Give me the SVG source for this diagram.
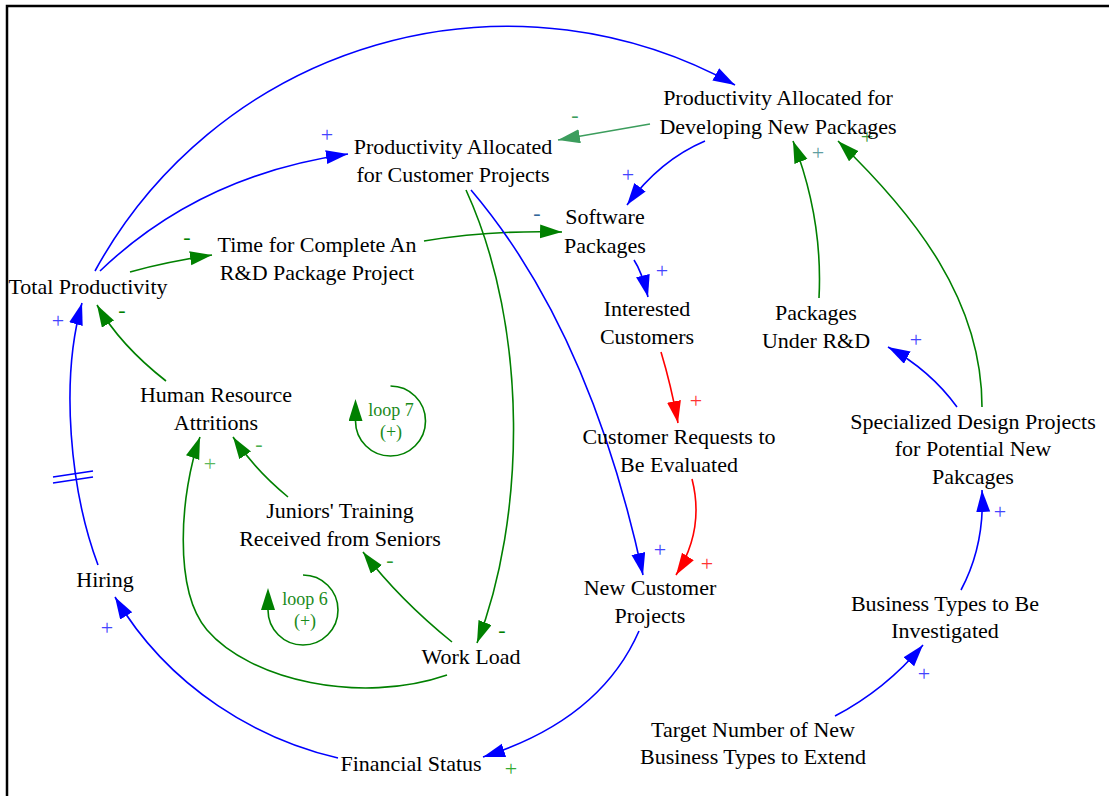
<svg xmlns="http://www.w3.org/2000/svg" width="1109" height="796" viewBox="0 0 1109 796">
  <style>
    .node text { font-family: "Liberation Serif", "Times New Roman", serif; font-size: 22px; fill: #000; text-anchor: middle; }
    .edge { fill: none; stroke-width: 1.6; }
    .blue { stroke: #0000ff; }
    .green { stroke: #008000; }
    .red { stroke: #ff0000; }
    .sea { stroke: #3c9d5d; }
    .sign { font-family: "Liberation Serif", "Times New Roman", serif; font-size: 22px; text-anchor: middle; }
    .loop text { font-family: "Liberation Serif", "Times New Roman", serif; font-size: 18px; fill: #1a8a1a; text-anchor: middle; }
    .loop path { fill: none; stroke: #008000; stroke-width: 1.6; }
  </style>
  <defs>
    <marker id="ahBlue" markerUnits="userSpaceOnUse" markerWidth="24" markerHeight="16" refX="22" refY="7" orient="auto">
      <path d="M0,0 L22,7 L0,14 z" fill="#0000ff"/>
    </marker>
    <marker id="ahGreen" markerUnits="userSpaceOnUse" markerWidth="24" markerHeight="16" refX="22" refY="7" orient="auto">
      <path d="M0,0 L22,7 L0,14 z" fill="#008000"/>
    </marker>
    <marker id="ahRed" markerUnits="userSpaceOnUse" markerWidth="24" markerHeight="16" refX="22" refY="7" orient="auto">
      <path d="M0,0 L22,7 L0,14 z" fill="#ff0000"/>
    </marker>
    <marker id="ahSea" markerUnits="userSpaceOnUse" markerWidth="24" markerHeight="16" refX="22" refY="7" orient="auto">
      <path d="M0,0 L22,7 L0,14 z" fill="#3c9d5d"/>
    </marker>
    <marker id="ahLoop" markerUnits="userSpaceOnUse" markerWidth="24" markerHeight="16" refX="0" refY="7" orient="auto">
      <path d="M0,0 L22,7 L0,14 z" fill="#008000"/>
    </marker>
  </defs>

  <rect x="0" y="0" width="1109" height="796" fill="#fff"/>
  <rect x="7" y="6" width="1200" height="900" fill="none" stroke="#000" stroke-width="2.5"/>

  <!-- causal links -->
  <g id="connectors">
    <path class="edge blue" d="M95,271 A470,470 0 0,1 735,85" marker-end="url(#ahBlue)"/>
    <path class="edge blue" d="M100,271 Q200,175 348,154" marker-end="url(#ahBlue)"/>
    <path class="edge green" d="M130,272 Q165,262 212,255" marker-end="url(#ahGreen)"/>
    <path class="edge green" d="M424,241 Q490,230 562,232" marker-end="url(#ahGreen)"/>
    <path class="edge sea" d="M650,124 L558,140" marker-end="url(#ahSea)"/>
    <path class="edge blue" d="M705,141 Q660,160 627,205" marker-end="url(#ahBlue)"/>
    <path class="edge blue" d="M634,260 Q642,272 648,297" marker-end="url(#ahBlue)"/>
    <path class="edge red" d="M661,352 Q671,385 678,423" marker-end="url(#ahRed)"/>
    <path class="edge red" d="M692,479 Q705,530 676,575" marker-end="url(#ahRed)"/>
    <path class="edge blue" d="M471,190 Q590,330 643,575" marker-end="url(#ahBlue)"/>
    <path class="edge green" d="M466,190 C530,330 525,520 477,643" marker-end="url(#ahGreen)"/>
    <path class="edge green" d="M452,642 Q400,600 363,552" marker-end="url(#ahGreen)"/>
    <path class="edge green" d="M288,497 Q255,470 233,437" marker-end="url(#ahGreen)"/>
    <path class="edge green" d="M447,675 C360,705 250,680 207,630 C173,590 180,493 200,437" marker-end="url(#ahGreen)"/>
    <path class="edge green" d="M166,381 Q120,345 97,305" marker-end="url(#ahGreen)"/>
    <path class="edge blue" d="M98,565 C70,490 60,380 82,303" marker-end="url(#ahBlue)"/>
    <path class="edge blue" d="M338,758 C260,740 170,690 115,597" marker-end="url(#ahBlue)"/>
    <path class="edge blue" d="M639,631 Q600,720 483,757" marker-end="url(#ahBlue)"/>
    <path class="edge blue" d="M835,716 Q885,690 923,645" marker-end="url(#ahBlue)"/>
    <path class="edge blue" d="M961,590 Q985,545 982,490" marker-end="url(#ahBlue)"/>
    <path class="edge blue" d="M957,407 Q930,370 888,347" marker-end="url(#ahBlue)"/>
    <path class="edge green" d="M982,407 C982,300 915,215 838,141" marker-end="url(#ahGreen)"/>
    <path class="edge green" d="M819,298 C822,240 812,190 793,141" marker-end="url(#ahGreen)"/>
    <!-- delay mark on hiring link -->
    <path class="edge blue" d="M53,477 L93,471 M53,483 L93,477"/>

    <!-- polarity signs -->
    <text class="sign" x="327" y="142" fill="#4444ff">+</text>
    <text class="sign" x="187" y="244" fill="#008000">-</text>
    <text class="sign" x="537" y="220" fill="#336699">-</text>
    <text class="sign" x="575" y="122" fill="#3c9d5d">-</text>
    <text class="sign" x="628" y="182" fill="#4444ff">+</text>
    <text class="sign" x="662" y="278" fill="#4444ff">+</text>
    <text class="sign" x="696" y="408" fill="#ff3333">+</text>
    <text class="sign" x="707" y="571" fill="#ff3333">+</text>
    <text class="sign" x="660" y="557" fill="#4444ff">+</text>
    <text class="sign" x="502" y="637" fill="#008000">-</text>
    <text class="sign" x="390" y="567" fill="#2e9a2e">-</text>
    <text class="sign" x="259" y="451" fill="#4caf50">-</text>
    <text class="sign" x="210" y="471" fill="#5cb85c">+</text>
    <text class="sign" x="122" y="317" fill="#008000">-</text>
    <text class="sign" x="58" y="328" fill="#4444ff">+</text>
    <text class="sign" x="107" y="635" fill="#4444ff">+</text>
    <text class="sign" x="511" y="776" fill="#33aa33">+</text>
    <text class="sign" x="924" y="681" fill="#4444ff">+</text>
    <text class="sign" x="1000" y="519" fill="#4444ff">+</text>
    <text class="sign" x="916" y="347" fill="#4444ff">+</text>
    <text class="sign" x="818" y="160" fill="#5f9ea0">+</text>
    <text class="sign" x="867" y="144" fill="#3a9a3a">+</text>
  </g>

  <!-- variables -->
  <g id="total-productivity" class="node"><text x="88" y="294">Total Productivity</text></g>
  <g id="prod-customer-projects" class="node">
    <text x="453" y="154">Productivity Allocated</text>
    <text x="453" y="182">for Customer Projects</text>
  </g>
  <g id="prod-new-packages" class="node">
    <text x="778" y="105">Productivity Allocated for</text>
    <text x="778" y="134">Developing New Packages</text>
  </g>
  <g id="rd-project-time" class="node">
    <text x="317" y="252">Time for Complete An</text>
    <text x="317" y="280">R&amp;D Package Project</text>
  </g>
  <g id="software-packages" class="node">
    <text x="605" y="224">Software</text>
    <text x="605" y="253">Packages</text>
  </g>
  <g id="interested-customers" class="node">
    <text x="647" y="316">Interested</text>
    <text x="647" y="344">Customers</text>
  </g>
  <g id="packages-under-rd" class="node">
    <text x="816" y="320">Packages</text>
    <text x="816" y="348">Under R&amp;D</text>
  </g>
  <g id="customer-requests" class="node">
    <text x="679" y="444">Customer Requests to</text>
    <text x="679" y="472">Be Evaluated</text>
  </g>
  <g id="specialized-design" class="node">
    <text x="973" y="429">Specialized Design Projects</text>
    <text x="973" y="456">for Potential New</text>
    <text x="973" y="484">Pakcages</text>
  </g>
  <g id="hr-attritions" class="node">
    <text x="216" y="402">Human Resource</text>
    <text x="216" y="430">Attritions</text>
  </g>
  <g id="juniors-training" class="node">
    <text x="340" y="518">Juniors' Training</text>
    <text x="340" y="546">Received from Seniors</text>
  </g>
  <g id="hiring" class="node"><text x="105" y="587">Hiring</text></g>
  <g id="new-customer-projects" class="node">
    <text x="650" y="595">New Customer</text>
    <text x="650" y="623">Projects</text>
  </g>
  <g id="work-load" class="node"><text x="471" y="664">Work Load</text></g>
  <g id="business-types" class="node">
    <text x="945" y="611">Business Types to Be</text>
    <text x="945" y="638">Investigated</text>
  </g>
  <g id="target-business-types" class="node">
    <text x="753" y="737">Target Number of New</text>
    <text x="753" y="764">Business Types to Extend</text>
  </g>
  <g id="financial-status" class="node"><text x="411" y="771">Financial Status</text></g>

  <!-- reinforcing loop markers -->
  <g id="loop-7" class="loop">
    <path d="M390.5,386 A35,35 0 1,1 355.5,421" marker-end="url(#ahLoop)"/>
    <text x="391" y="416">loop 7</text>
    <text x="391" y="438">(+)</text>
  </g>
  <g id="loop-6" class="loop">
    <path d="M303,575 A35,35 0 1,1 268,610" marker-end="url(#ahLoop)"/>
    <text x="305" y="605">loop 6</text>
    <text x="305" y="627">(+)</text>
  </g>
</svg>
